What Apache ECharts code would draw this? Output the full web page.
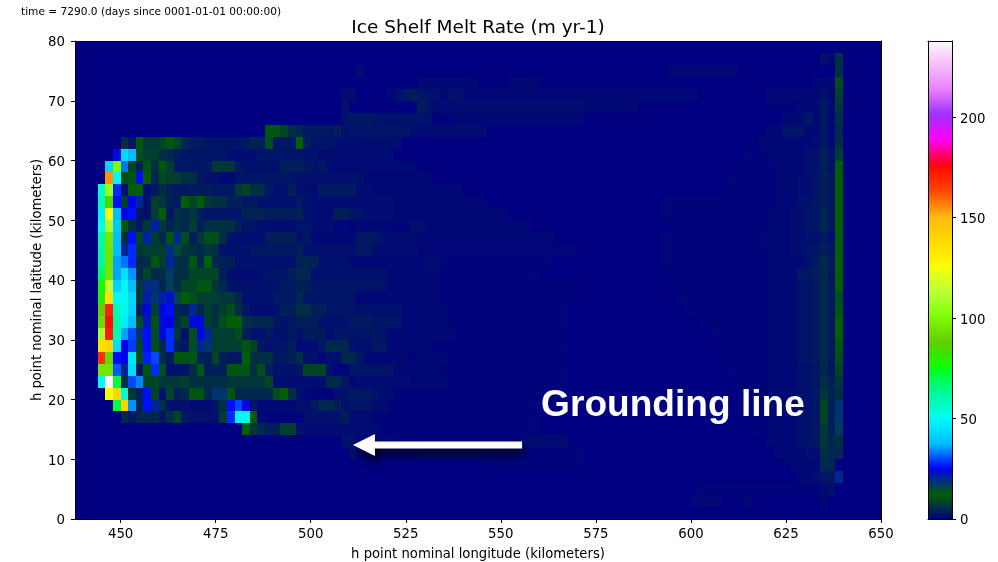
<!DOCTYPE html>
<html>
<head>
<meta charset="utf-8">
<title>Ice Shelf Melt Rate</title>
<script src="https://cdn.jsdelivr.net/npm/echarts@6/dist/echarts.min.js"></script>
<style>
  html, body { margin: 0; padding: 0; background: #fff; }
  #chart { width: 998px; height: 562px; }
</style>
</head>
<body>
<div id="chart"></div>
<script>
// grid of the model: cells are 2 km x 2 km
const xMin = 438, xMax = 650, yMin = 0, yMax = 80, cellSize = 2;
const colorMax = 238;

const xTicks = [450, 475, 500, 525, 550, 575, 600, 625, 650];
const yTicks = [0, 10, 20, 30, 40, 50, 60, 70, 80];
const colorTicks = [0, 50, 100, 150, 200];

// values, top row (y 78-80) first
// west part: plain values for columns 3..28 (x 444..496)
const meltNear = [
  [], [], [], [], [], [], [],
  [0,0,0,0,0,0,0,0,0,0,0,0,0,0,0,0,0,0,0,0,0,0,11,11,9,6],
  [0,0,0,6,3,11,7,7,9,11,9,5,3.5,3.5,2.5,2.5,2.5,2.5,2.5,3,4.5,4,10,3,3,3],
  [0,0,24,44,38,10,8,8,6,5,3.5,2.5,2.5,2.5,2.5,2.5,2.5,1.5,1.5,1.5,1.5,2.5,2.5,2.5,2.5,2.5],
  [0,42,100,33,9,4,11,6,11,8,3,3,3,2.5,3,7,7,7,3,2,2,2,2,2,4,4],
  [0,155,50,10,11,26,12,5,9,8,8,6,6,3,2,2,1,1,2.5,2.5,2.5,2.5,2.5,2.5,2.5,2.5],
  [56,105,28,2,12,12,2,3,6,4,3,3,3.5,3.5,3.5,3,3,3,7,9,6,6,3,2,2,4],
  [58,85,26,8,25,20,2,8,7,4,3,12,9,12,7,6,6,4,4,3,3,2,2,2,2,2],
  [48,125,38,25,26,3,2,8,12,3,6,5,7,4,2.5,2.5,2.5,2.5,2.5,4.5,4.5,4.5,4,4,4,4],
  [52,110,40,11,6,3,7,21,7,5,6,5,8,4,6,6,6,6,4,2.5,2.5,1.5,1.5,1.5,1.5,1.5],
  [60,95,38,6,26,9,21,8,5,11,20,10,4,7,10,10,6,2,2,1.5,1.5,1.5,4,4,4,4],
  [62,95,38,20,28,7,8,8,8,19,15,7,6,5,7,6,2,2,2,2,3,3,3,3,3,3],
  [62,95,36,33,28,5,6,11,8,20,6,6,11,5,12,5,4,4,2,2,2,2,2,2,2,2],
  [68,95,36,45,35,5,9,5,6,17,6,6,9,9,9,9,4,1.5,1.5,1.5,1.5,1.5,2.5,2.5,2.5,4],
  [78,115,42,50,38,7,19,19,5,17,6,9,9,11,11,7,5,2.5,2,2,2,2,2,2,3,3],
  [80,135,50,50,43,7,21,18,21,23,16,12,10,8,8,8,7,7,5,2,2,2,2,3,3,3],
  [88,170,58,50,42,4,24,8,24,26,5,4,20,5,8,6,8,10,6,3,1.5,1.5,1.5,2,4,4],
  [92,175,62,48,38,10,22,11,24,25,6,9,24,24,8,6,10,12,12,6,5,5,5,3,2,3],
  [110,172,60,36,30,18,26,10,24,28,7,2,10,24,20,8,8,8,10,4,2,2,3,2,2,3],
  [135,140,44,25,29,9,26,10,5,28,4,3,10,20,18,8,8,8,8,11,9,3,2,2.5,2.5,4],
  [168,90,26,25,46,10,27,30,6,3,11,11,11,4,4,9,4,3,3,12,6,6,6,3,3,4],
  [95,95,31,20,44,3,11,28,10,2,2,2,6,11,4,4,4,11,11,11,6,10,4,2,2,2],
  [50,238,72,6,30,34,9,9,7,7,7,8,6,6,6,6,6,7,7,7,7,7,9,1.5,1.5,1.5],
  [0,125,140,55,7,4,26,9,2,9,4,5,11,11,5,18,18,11,5,5,5,5,5,10,12,6],
  [0,0,70,142,35,5,26,20,6,2,2,2,1.5,1.5,1.5,3,6,26,30,24,3,1,1,1,1,1],
  [0,0,0,5,3,5,5,5,3,6,9,3,2,2,2,2,8,28,50,50,12,1,0.5,0.5,0.5,0.5],
  [0,0,0,0,0,0,0,0,0,0,0,0,0,0,0,0,0,0,0,12,7,5,4,4,8,8],
  [], [], [], [], [], [], []
];

// middle part: value,count pairs starting at column 29 (x 496)
const meltMid = [
  [],
  [],
  [0,8, 1.5,1],
  [0,16, 1,8, 0,4, 1,4],
  [0,6, 1.5,2, 0,4, 1,1, 2,1, 3,1, 4,1, 3,1, 2,2, 1,1, 2,2, 1,23],
  [0,6, 2,1, 0,9, 4,1, 2.5,1, 1.5,20, 1,7],
  [0,6, 2,1, 3,3, 2.5,1, 2,4, 2,3, 0.5,3, 1,17],
  [5,1, 3,4, 4,1, 2,1, 2.5,8, 1.5,10],
  [12,1, 4,1, 2,1, 2.5,2, 1.5,9],
  [2.5,1, 2,2, 1.5,10],
  [4,1, 3,1, 2,1, 3,1, 1.2,12],
  [2,9, 1,9],
  [2,1, 1.5,2, 3.5,5, 1.5,2, 1,12],
  [3,1, 2,1, 1.5,11, 1,12],
  [4.5,1, 2,1, 1.5,3, 4,2, 2.5,2, 1.5,4, 1,15],
  [2.5,2, 1.5,3, 0.8,2, 0.5,1, 1,5, 0.5,2, 2,2, 1,14],
  [2,1, 3,1, 1,6, 3,3, 1.5,5, 1,18],
  [4,1, 2,7, 3,2, 1.5,6, 0.8,21],
  [4.5,3, 2,4, 1,9, 0.5,1, 1.5,2, 0.5,15],
  [5,2, 2,10, 1,7, 0.5,13],
  [4,2, 2.5,10, 1,7, 0.5,18],
  [5,1, 2.5,7, 1,11, 0.5,18],
  [6,2, 4,2, 2.5,4, 2,6, 1,6, 0.5,16],
  [4,3, 2,4, 3.5,3, 2.5,4, 1,6, 0.5,16],
  [2,1, 3.5,3, 1.5,1, 2.5,7, 1,9, 0.5,14],
  [1.5,3, 3,1, 5,3, 2,1, 1.5,2, 3,2, 1,6, 0.5,18],
  [6,1, 2,2, 1,1, 2,1, 1.5,1, 5,2, 3,1, 1,6, 0.5,1, 1,4, 0.5,15],
  [3,1, 9,3, 2,1, 0.5,2, 2.5,6, 1,6, 0.5,17],
  [1.5,3, 2,1, 5,2, 3,1, 1,1, 1.5,7, 1,5, 0.5,16],
  [2,1, 1,1, 0.5,3, 2,2, 3,3, 2,1, 1.5,2, 0.5,21],
  [2,2, 3,1, 5,2, 4,1, 2,1, 2.5,3, 1.5,2, 0.5,21],
  [0.5,1, 2,5, 4,1, 1.5,3, 0.5,22],
  [2,1, 1.5,10, 0.5,21],
  [0,6, 2,2, 1,6, 0.5,16, 1.5,6],
  [0,7, 2,1, 0,8, 1,9, 0.5,13],
  [0,25, 0.5,13],
  [], [], [], []
];

// east part: value,count pairs starting at column 74 (x 586)
const meltEast = [
  [],
  [0,24, 2,1, 1,1, 6,1],
  [0,4, 1,9, 0,13, 6,1],
  [0,23, 1,3, 10,1],
  [1,8, 0,9, 1,7, 2,1, 1,1, 8,1],
  [0,17, 0.5,4, 1,3, 3,1, 1,1, 7,1],
  [0,19, 1,2, 1.5,1, 3,1, 1,1, 3,1, 1,1, 6,1],
  [0,17, 1,2, 2.5,3, 1,2, 3,1, 1,1, 5,1],
  [0,16, 1,7, 1.5,1, 3,1, 1,1, 6,1],
  [0,14, 0.5,3, 1,5, 2,2, 4,1, 2,1, 8,1],
  [0,13, 0.5,5, 1,4, 2,2, 4,1, 2,1, 12,1],
  [0,12, 0.5,6, 1,3, 1.5,2, 2.5,1, 4,1, 3,1, 12,1],
  [0,11, 0.5,7, 1,3, 1.5,2, 2.5,1, 4,1, 3,1, 12,1],
  [0,3, 0.5,15, 1,3, 2,2, 3,1, 4,1, 3,1, 12,1],
  [0,3, 0.5,14, 1,3, 1.5,2, 2.5,2, 5,1, 3,1, 12,1],
  [0,4, 0.5,13, 1,3, 1.5,2, 2.5,2, 5,1, 3,1, 12,1],
  [0,3, 0.5,13, 1,4, 1.5,2, 2,2, 3.5,1, 1.5,1, 12,1],
  [0,3, 0.5,14, 1,3, 1.5,2, 2.5,2, 4,1, 3,1, 12,1],
  [0,3, 0.5,14, 1,5, 2.5,1, 3.5,1, 5,1, 3.5,1, 12,1],
  [0,4, 0.5,13, 1,4, 3,2, 4,1, 5,1, 3,1, 12,1],
  [0,4, 0.5,13, 1,4, 2.5,2, 3.5,1, 5,1, 3.5,1, 12,1],
  [0,5, 0.5,12, 1,4, 2.5,2, 3.5,1, 5,1, 3.5,1, 10,1],
  [0,6, 0.5,11, 1,4, 2.5,2, 3.5,1, 5,1, 3.5,1, 11,1],
  [0,8, 0.5,9, 1,4, 2.5,2, 3.5,1, 5,1, 3.5,1, 12,1],
  [0,10, 0.5,7, 1,4, 2.5,2, 3.5,1, 5,1, 3.5,1, 12,1],
  [0,11, 0.5,6, 1,4, 2.5,2, 3.5,1, 5,1, 3.5,1, 11,1],
  [0,11, 0.5,6, 1,4, 2.5,2, 3.5,1, 5,1, 3.5,1, 10,1],
  [0,12, 0.5,5, 1,4, 2,2, 3,1, 5,1, 3,1, 9,1],
  [0,13, 0.5,4, 1,4, 2,2, 3,1, 6,1, 4,1, 7,1],
  [0,13, 0.5,4, 1,4, 2,2, 3,1, 7,1, 4,1, 6,1],
  [0,13, 0.5,4, 1,4, 2,2, 3,1, 9,1, 4,1, 18,1],
  [0,14, 0.5,3, 1,4, 2,2, 3,1, 9,1, 4,1, 18,1],
  [0,15, 0.5,2, 1,4, 2,2, 3,1, 7,1, 4,1, 17,1],
  [0,17, 1,4, 2,2, 3,1, 7,1, 5,1, 6,1],
  [0,18, 1,4, 1.5,2, 6,1, 5,1, 5,1],
  [0,20, 1,4, 5,1, 5,1],
  [0,21, 1,2, 2,1, 3,1, 3,1, 20,1],
  [0,8, 0.5,16, 1.5,1, 2,1],
  [0,7, 1,4, 0,3, 1,1, 0,9, 1,1],
  []
];

// annotation, in data coordinates: [tail x, y, tip x]
const arrowLine = [[555.6, 12.4, 511.1]];
const noteLabel = [[560.6, 18.9, 'Grounding line']];

// matplotlib gist_ncar segment table, used for the colour scale only
const ncarRed = [[0,0],[0.3098,0],[0.3725,0.3993],[0.4235,0.5003],[0.5333,1],[0.7922,1],[0.8471,0.6218],[0.898,0.9235],[1,0.9961]];
const ncarGreen = [[0,0],[0.051,0.3722],[0.1059,0],[0.1569,0.7202],[0.1608,0.7537],[0.1647,0.7752],[0.2157,1],[0.2588,0.9804],[0.2706,0.9804],[0.3176,1],[0.3686,0.8081],[0.4275,1],[0.5216,1],[0.6314,0.7292],[0.6863,0.2796],[0.7451,0],[0.7922,0],[0.8431,0.1753],[0.898,0.5],[1,0.9725]];
const ncarBlue = [[0,0.502],[0.051,0.0222],[0.1098,1],[0.2039,1],[0.2627,0.6145],[0.3216,0],[0.4157,0],[0.4745,0.2342],[0.5333,0],[0.5804,0],[0.6314,0.0549],[0.6902,0],[0.7373,0],[0.7922,0.9738],[0.8,1],[0.8431,1],[0.898,0.9892],[0.9529,0.9803],[1,0.9952]];

function segment(table, t) {
  for (let i = 1; i < table.length; i++) {
    if (t <= table[i][0]) {
      const a = table[i - 1], b = table[i];
      return a[1] + (b[1] - a[1]) * (t - a[0]) / (b[0] - a[0]);
    }
  }
  return table[table.length - 1][1];
}

const ncarColors = [];
const colorLevels = [];
for (let v = 0; v <= colorMax; v++) {
  const t = v / colorMax;
  ncarColors.push('rgb(' + [ncarRed, ncarGreen, ncarBlue].map(tb => Math.round(segment(tb, t) * 255)).join(',') + ')');
  if (v < colorMax) colorLevels.push([0, v, v + 0.5]);
}

function unpack(runs) {
  const out = [];
  for (let i = 0; i < runs.length; i += 2) {
    for (let n = 0; n < runs[i + 1]; n++) out.push(runs[i]);
  }
  return out;
}

// put the three parts together as [x, y, value] cells
const cells = [];
const colCount = (xMax - xMin) / cellSize, rowCount = (yMax - yMin) / cellSize;
for (let r = 0; r < rowCount; r++) {
  const row = new Array(colCount).fill(0);
  meltNear[r].forEach((v, i) => { row[3 + i] = v; });
  unpack(meltMid[r]).forEach((v, i) => { row[29 + i] = v; });
  unpack(meltEast[r]).forEach((v, i) => { row[74 + i] = v; });
  row.forEach((v, c) => {
    cells.push([xMin + c * cellSize, yMax - (r + 1) * cellSize, v]);
  });
}

const font = '"DejaVu Sans", sans-serif';
const black = { show: true, onZero: false, lineStyle: { color: '#000', width: 1 } };

// cell rectangle through the axis scales, rounded so neighbours leave no seams
function cellRect(params, api, w, h) {
  const a = api.coord([api.value(0), api.value(1)]);
  const b = api.coord([api.value(0) + w, api.value(1) + h]);
  const x0 = Math.round(a[0]), x1 = Math.round(b[0]);
  const y0 = Math.round(b[1]), y1 = Math.round(a[1]);
  return {
    type: 'rect',
    shape: { x: x0, y: y0, width: x1 - x0, height: y1 - y0 },
    style: { fill: api.visual('color') }
  };
}

function frameAxis(extra) {
  return Object.assign({
    type: 'value', z: 10, axisLine: black, axisTick: { show: false },
    axisLabel: { show: false }, splitLine: { show: false }
  }, extra);
}

const tickStyle = { show: true, length: 4, lineStyle: { color: '#000', width: 1 } };
const labelStyle = { show: true, fontFamily: font, fontSize: 13.3, color: '#000' };
// side labels sit a little below their ticks in the reference
const sideLabel = {
  formatter: '{a|{value}}',
  rich: { a: { fontFamily: font, fontSize: 13.3, color: '#000', padding: [4, 0, 0, 0] } }
};

const chart = echarts.init(document.getElementById('chart'), null, { renderer: 'canvas' });
chart.setOption({
  animation: false,
  backgroundColor: '#fff',
  title: [
    { text: 'Ice Shelf Melt Rate (m yr-1)', left: 478, top: 19, textAlign: 'center', padding: 0,
      textStyle: { fontFamily: font, fontSize: 18.5, fontWeight: 'normal', color: '#000' } },
    { text: 'time = 7290.0 (days since 0001-01-01 00:00:00)', left: 21, top: 7, padding: 0,
      textStyle: { fontFamily: font, fontSize: 10.6, fontWeight: 'normal', color: '#000' } }
  ],
  grid: [
    { left: 75, top: 41, width: 806, height: 478, outerBoundsMode: 'none' },
    { left: 928, top: 41, width: 24, height: 478, outerBoundsMode: 'none' }
  ],
  xAxis: [
    frameAxis({ gridIndex: 0, min: xMin, max: xMax, position: 'bottom',
      axisTick: Object.assign({ customValues: xTicks }, tickStyle),
      axisLabel: Object.assign({ customValues: xTicks, margin: 9 }, labelStyle),
      name: 'h point nominal longitude (kilometers)', nameLocation: 'middle', nameGap: 29,
      nameTextStyle: { fontFamily: font, fontSize: 13.2, color: '#000' } }),
    frameAxis({ gridIndex: 0, min: xMin, max: xMax, position: 'top' }),
    frameAxis({ gridIndex: 1, min: 0, max: 1, position: 'bottom' }),
    frameAxis({ gridIndex: 1, min: 0, max: 1, position: 'top' })
  ],
  yAxis: [
    frameAxis({ gridIndex: 0, min: yMin, max: yMax, position: 'left',
      axisTick: Object.assign({ customValues: yTicks }, tickStyle),
      axisLabel: Object.assign({ customValues: yTicks, margin: 10 }, labelStyle, sideLabel),
      name: 'h point nominal latitude (kilometers)', nameLocation: 'middle', nameGap: 31, nameMoveOverlap: false,
      nameTextStyle: { fontFamily: font, fontSize: 13.2, color: '#000' } }),
    frameAxis({ gridIndex: 0, min: yMin, max: yMax, position: 'right' }),
    frameAxis({ gridIndex: 1, min: 0, max: colorMax, position: 'left' }),
    frameAxis({ gridIndex: 1, min: 0, max: colorMax, position: 'right',
      axisTick: Object.assign({ customValues: colorTicks }, tickStyle),
      axisLabel: Object.assign({ customValues: colorTicks, margin: 8 }, labelStyle, sideLabel) })
  ],
  visualMap: {
    show: false, type: 'continuous', min: 0, max: colorMax, dimension: 2,
    seriesIndex: [0, 1], inRange: { color: ncarColors }
  },
  series: [
    {
      type: 'custom', xAxisIndex: 0, yAxisIndex: 0, data: cells, silent: true, z: 2,
      encode: { x: 0, y: 1 },
      renderItem: (params, api) => cellRect(params, api, cellSize, cellSize)
    },
    {
      type: 'custom', xAxisIndex: 2, yAxisIndex: 2, data: colorLevels, silent: true, z: 2,
      encode: { x: 0, y: 1 },
      renderItem: (params, api) => cellRect(params, api, 1, 1)
    },
    {
      type: 'custom', xAxisIndex: 0, yAxisIndex: 0, data: arrowLine, silent: true, z: 5,
      encode: { x: [0, 2], y: 1 },
      renderItem: (params, api) => {
        const tail = api.coord([api.value(0), api.value(1)]);
        const tip = api.coord([api.value(2), api.value(1)]);
        const neck = tip[0] + 22, y = tail[1];
        return {
          type: 'polygon',
          shape: { points: [
            [tip[0], y], [neck, y - 11], [neck, y - 3.5], [tail[0], y - 3.5],
            [tail[0], y + 3.5], [neck, y + 3.5], [neck, y + 11]
          ] },
          style: { fill: '#fff', shadowBlur: 8, shadowOffsetX: 3, shadowOffsetY: 6, shadowColor: 'rgba(0,0,0,0.85)' }
        };
      }
    },
    {
      type: 'custom', xAxisIndex: 0, yAxisIndex: 0, data: noteLabel, silent: true, z: 5,
      encode: { x: 0, y: 1 },
      renderItem: (params, api) => {
        const p = api.coord([api.value(0), api.value(1)]);
        return {
          type: 'text',
          style: {
            x: p[0], y: p[1], text: noteLabel[params.dataIndex][2],
            fill: '#fff', font: 'bold 37.1px "Liberation Sans", Arial, sans-serif',
            textAlign: 'left', textVerticalAlign: 'middle'
          }
        };
      }
    }
  ]
});
window.addEventListener('resize', () => chart.resize());
</script>
</body>
</html>
